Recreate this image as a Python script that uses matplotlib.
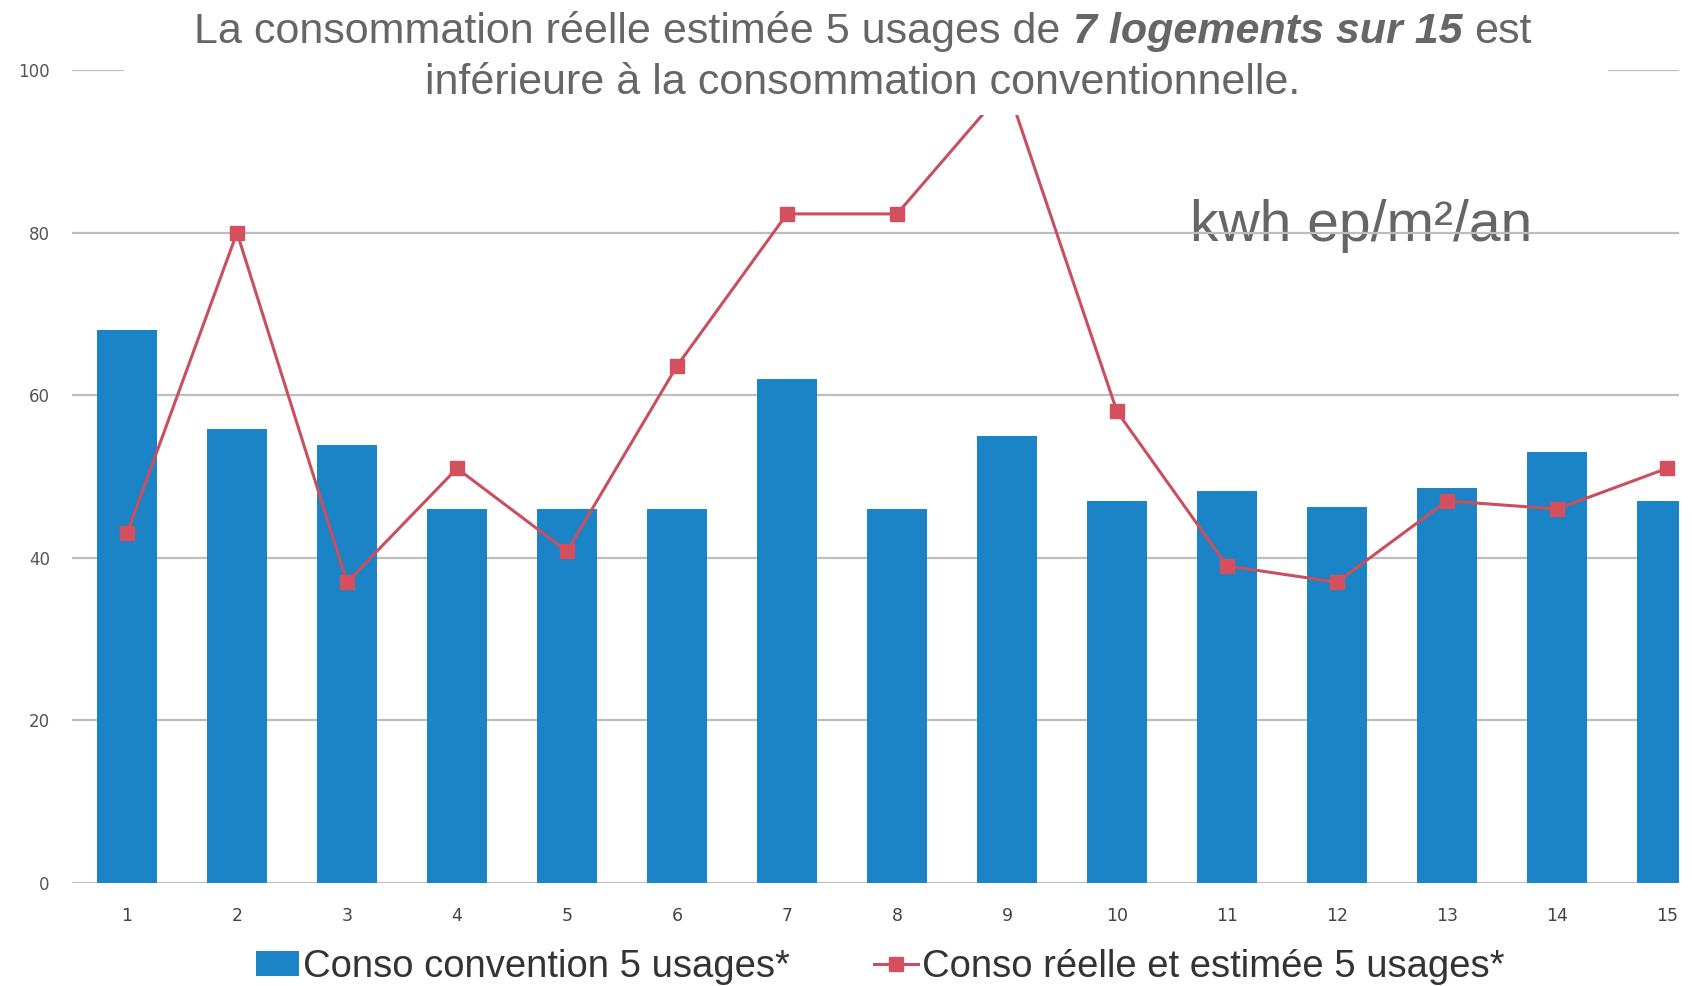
import numpy as np
import matplotlib
matplotlib.use("Agg")
import matplotlib.pyplot as plt
from matplotlib.patches import Rectangle


logements = [str(i) for i in range(1, 16)]
conso_convention = [68, 55.8, 53.9, 46, 46, 46, 62, 46, 55, 47, 48.2, 46.2, 48.6, 53, 47]
conso_reelle = [43, 80, 37, 51, 40.8, 63.6, 82.3, 82.3, 98, 58, 39, 37, 47, 46, 51]
y_ticks = [0, 20, 40, 60, 80, 100]

label_convention = "Conso convention 5 usages*"
label_reelle = "Conso réelle et estimée 5 usages*"
unit_label = "kwh ep/m²/an"
title_parts = ["La consommation réelle estimée 5 usages de", "7 logements sur 15", "est"]
title_line2 = "inférieure à la consommation conventionnelle."

BLUE = "#1a84c7"
RED = "#c94f5e"
GRID = "#bdbdbd"
TEXT_GRAY = "#666666"

W, H = 1692, 986
plt.rcParams["font.family"] = ["Liberation Sans", "DejaVu Sans"]

fig = plt.figure(figsize=(W / 100, H / 100), dpi=100)
# plot area stops just short of the right edge, clipping the last bar
ax = fig.add_axes([72 / W, 103 / H, 1607 / W, 813 / H])

x = np.arange(1, len(logements) + 1)
bars = ax.bar(x, conso_convention, width=0.55, color=BLUE, zorder=2, label=label_convention)
line, = ax.plot(x, conso_reelle, color=RED, lw=2.2, marker="s", ms=10,
                markerfacecolor="#d4505f", markeredgecolor="#d4505f", zorder=3,
                label=label_reelle)

ax.set_xlim(0.5, 0.5 + 1607 / 110)
ax.set_ylim(0, 100)
ax.set_xticks(x, logements)
ax.set_yticks(y_ticks)
for s in ax.spines.values():
    s.set_visible(False)
ax.set_axisbelow(True)
ax.grid(axis="y", color=GRID, lw=1.6)
ax.tick_params(axis="both", length=0)
ax.tick_params(axis="y", pad=16, labelsize=12, labelcolor="#555555")
ax.tick_params(axis="x", pad=17, labelsize=12.5, labelcolor="#444444")
for lbl in ax.get_xticklabels() + ax.get_yticklabels():
    lbl.set_fontfamily("DejaVu Sans")

# unit label sits on the 80 gridline
ax.text(1190 / W, 1 - 226 / H, unit_label, transform=fig.transFigure,
        fontsize=41, color=TEXT_GRAY, va="center", ha="left", zorder=0.4)

# white band behind the headline, hiding the top of the curve
fig.add_artist(Rectangle((124 / W, 1 - 115 / H), (1608 - 124) / W, 115 / H,
                         transform=fig.transFigure, facecolor="white",
                         edgecolor="none", zorder=5))

title_size = 31
styles = [dict(), dict(fontweight="bold", fontstyle="italic"), dict()]
pieces = [fig.text(0, 1 - 32 / H, p, fontsize=title_size, color=TEXT_GRAY,
                   va="center", ha="left", zorder=6, **st)
          for p, st in zip(title_parts, styles)]
fig.text(863 / W, 1 - 83 / H, title_line2, fontsize=title_size, color=TEXT_GRAY,
         va="center", ha="center", zorder=6)

fig.canvas.draw()
renderer = fig.canvas.get_renderer()
gap = 0.278 * title_size * 100 / 72
widths = [p.get_window_extent(renderer).width for p in pieces]
total = sum(widths) + gap * (len(pieces) - 1)
xpos = 863 - total / 2
for p, w in zip(pieces, widths):
    p.set_x(xpos / W)
    xpos += w + gap

fig.legend(handles=[bars, line], loc="center", bbox_to_anchor=(880 / W, 1 - 967 / H),
           ncol=2, frameon=False, fontsize=27.5, handlelength=1.15, handleheight=0.6,
           handletextpad=0.1, columnspacing=2.2, borderpad=0, labelcolor="#333333")

fig.savefig("out.png", dpi=100, facecolor="white")
